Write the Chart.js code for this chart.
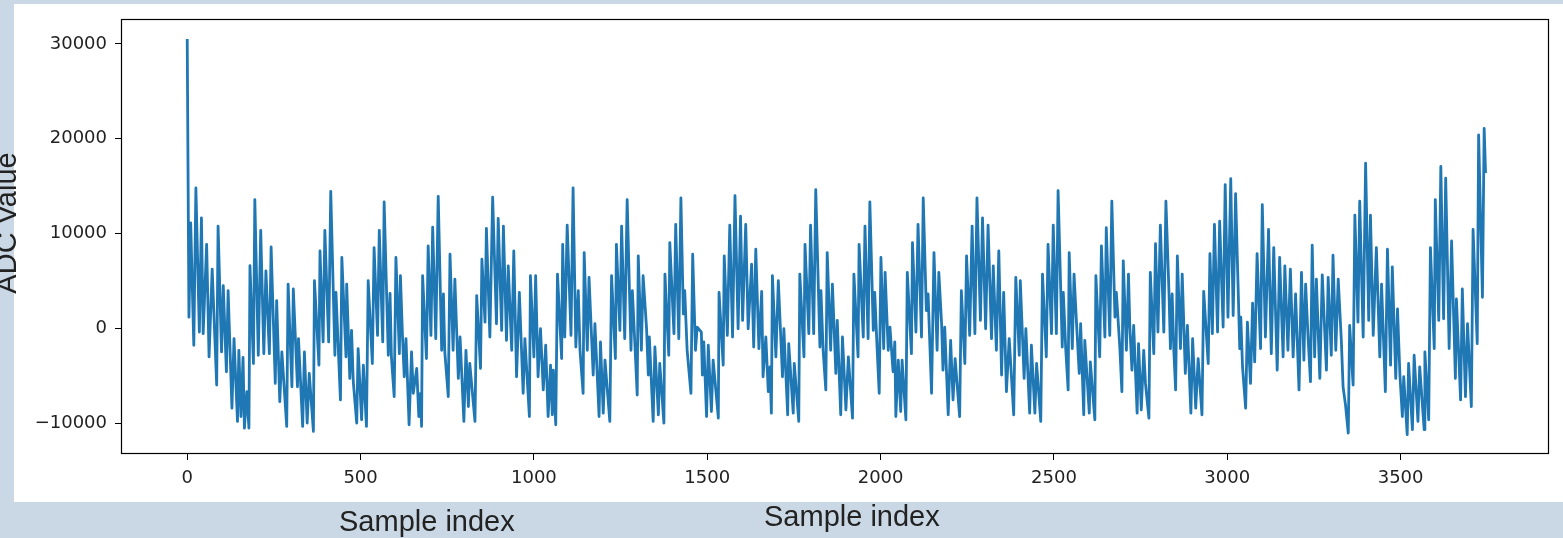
<!DOCTYPE html>
<html>
<head>
<meta charset="utf-8">
<script src="https://cdn.jsdelivr.net/npm/chart.js@4.4.1/dist/chart.umd.min.js"></script>
<style>
    html, body { margin: 0; padding: 0; }
    body { width: 1563px; height: 538px; background: #cad8e5; position: relative; overflow: hidden; }
    #panel { position: absolute; left: 14px; top: 4px; width: 1549px; height: 498px; background: #fff; }
    #wrap  { position: absolute; left: 0; top: 0; width: 1563px; height: 538px; }
</style>
</head>
<body>
<div id="panel"></div>
<div id="wrap"><canvas id="adcChart"></canvas></div>
<script>
// ── Data (sample index → ADC value) ──────────────────────────────────

const sampleIndex = [
    0,5,10,19,25,35,41,46,56,63,72,85,89,99,104,113,118,129,135,145,149,155,161,165,172,
    178,181,191,195,205,212,221,227,237,242,254,258,267,273,287,291,302,306,318,321,333,338,346,352,364,
    367,380,383,392,397,408,414,426,429,442,446,458,460,469,474,479,489,493,503,508,517,522,
    534,539,549,554,564,568,580,585,589,597,602,612,615,621,626,631,640,647,652,662,668,673,676,679,690,
    695,703,708,717,724,734,739,743,753,758,767,772,777,782,787,798,804,811,815,830,835,846,850,859,863,
    873,881,892,897,907,912,921,926,936,942,950,958,969,974,987,990,1000,1005,1012,1019,1027,1034,1041,1048,1053,
    1056,1063,1068,
    1080,1083,1089,1096,1107,1113,1121,1128,1133,1142,1145,1154,1159,1171,1176,1188,1192,1200,1205,1219,
    1224,1235,1238,1248,1253,1262,1269,1280,1284,1291,1298,1301,1310,1315,1325,1330,1333,1344,1349,1359,
    1363,1375,1378,1389,1392,1404,1409,1418,1424,1431,1435,1442,1453,1458,1466,1471,1483,1486,1490,1498,
    1503,1512,1517,1532,1534,1546,1549,1558,1565,1573,1580,1589,1596,
    1602,1611,1618,1628,1634,1640,1649,1657,1661,1669,1676,1681,1685,1688,1698,1705,1717,1721,1732,1735,
    1748,1751,1764,1767,1779,1782,1793,1798,1807,1813,1825,1828,1834,1842,1846,1856,1861,1871,1875,1885,
    1890,1900,1907,1919,1923,1935,1938,1950,1955,1964,1969,1979,1983,1990,1996,2001,2009,2013,2022,2027,
    2036,2041,2044,2051,2058,2062,2073,2077,2089,2092,2102,2108,2118,2123,2132,2137,2147,2154,2163,2168,
    2176,2180,2185,2195,2202,2209,2215,2228,2233,2243,2248,2257,2264,2272,2278,2288,2294,2303,2310,2320,
    2325,2334,2341,2349,2355,2363,2371,2384,2390,2400,2403,2414,2419,2430,2435,2445,2450,2462,2467,2478,
    2483,2493,2498,2507,2512,2524,2527,2534,2541,2544,2553,2558,2565,2573,2577,2586,2589,2602,2605,2618,
    2621,2632,2637,2647,2651,2661,2667,2676,2680,2690,2696,2700,2709,2715,
    2719,2725,2730,2740,2744,2752,2759,2764,2774,2778,2788,2793,2800,2807,2817,2823,2832,2836,2841,2846,
    2851,2856,2865,2870,2879,2885,2895,2900,2909,2916,2927,2932,2945,2950,2957,2963,2972,2978,2988,2994,
    3002,3010,3017,3024,3031,3036,3039,3044,3053,3058,3067,3073,3079,3086,3096,3101,3110,3119,3127,3134,
    3144,3151,3161,3166,3175,3182,3190,3197,3207,3214,3221,3226,3233,3240,3245,
    3252,3257,3267,3274,3286,3291,3300,3305,3313,3320,3329,3334,3341,3349,3353,3363,3368,3377,3382,3392,
    3399,3408,3413,3421,3430,3440,3445,3456,3462,3471,3476,3486,3491,3498,3505,3509,3519,3523,3534,3539,
    3550,3555,3568,3570,3581,3586,3597,3600,3610,3616,3624,3630,3640,3647,3658,3661,3673,3678,3687,3693,
    3704,3709,3721,3725,3736,3741,3745
];

const adcValue = [
    30520,1200,11150,-1760,14815,-370,11670,-540,8880,-2980,6270,-5950,10800,-2460,4520,-4550,3990,-8390,-1060,-9790,-2290,-9270,-3050,-10490,-6650,
    -10490,6620,-3680,13590,-2810,10350,-2640,6090,-2640,8600,-5780,2950,-7700,-2460,-10310,4690,-6130,4170,-6130,-1060,-10310,-2460,-9960,-4730,-10840,
    5040,-3860,8180,-1410,10350,-1410,14470,-2810,3820,-7520,7490,-2980,4690,-5250,-190,-5600,-9960,-2110,-9610,-3860,-10310,5040,
    -3680,8530,-720,10350,-1410,13350,-2810,3720,-2980,-7170,7490,-2640,5570,-890,-5080,-1060,-10140,-2460,-6820,-4200,-9270,-6820,-10310,5570,-3160,
    8710,-720,10700,-1060,13940,-2290,3650,-2460,-7170,7840,-2290,5220,-20,-5250,-890,-9790,-2290,-8220,-3680,-9790,3470,-4200,7310,680,10560,
    -890,13840,510,11600,-190,10800,-1240,6610,-2290,8180,-5080,3820,-6820,-1060,-9270,5570,-2980,5570,-5080,-20,-6470,-1760,-9270,-3860,-9090,
    -4380,-10140,5740,
    -3160,8880,-890,10910,-720,14815,-1940,3990,-2290,-6820,8010,-2290,5390,-4900,510,-9270,-1410,-8920,-3330,-9790,
    5570,-3160,8880,-190,10800,-1060,13590,-2290,3990,-1410,-7000,7660,-2290,5570,-20,-4900,-890,-9790,-1940,-9090,
    -3680,-9960,5740,-2810,9060,-540,10980,-1060,13770,1550,3990,-2290,-6820,7840,-2290,160,-370,-4900,-1410,-9270,
    -1760,-8740,-3330,-9440,3820,-3860,7660,-720,10910,-890,14010,-20,11850,
    860,10980,-20,6790,-1940,8360,-2110,3930,-5080,-890,-6650,-4030,-8920,5570,-2980,5040,-5080,-20,-9090,-1590,
    -8920,-3680,-9790,5740,-2980,8880,-540,10910,-540,14640,-1940,3990,-2110,-6470,8010,-2290,4690,-4730,860,-9090,
    -890,-8570,-2980,-9440,5740,-2980,8880,-890,10800,-1060,13350,-190,3820,-2110,-6820,7490,-2110,5920,-2290,160,
    -4550,-1410,-9270,-3330,-8740,-3330,-9610,5920,-2640,9060,-370,10980,-890,13770,1900,3650,-6820,8010,-2290,5920,
    510,-4380,160,-9090,-1240,-7520,-3160,-9270,3990,-3680,7660,-720,10800,-540,13770,860,11670,-20,10910,-1060,
    6610,-2290,8180,-4900,3820,-6650,-1060,-9090,5390,-2810,5040,-5250,-20,-8920,-1760,-8920,-3680,-9790,5740,-2980,
    8880,-540,10910,-540,14540,-1940,3820,-2110,-6470,8010,-2110,5740,680,-4730,510,-9090,-1240,-8920,-3510,-9610,
    5570,-2980,8710,-890,10630,-720,13420,1200,3820,-1940,-6650,7140,-2290,5740,
    160,-4380,330,-8920,-1590,-8570,-2290,-5780,-9440,5920,-2640,8950,-370,10910,-370,13420,3650,-2110,3650,-2460,
    -6470,7660,-2110,5740,-4730,330,-8920,-1060,-8390,-3160,-9090,3930,-3680,7900,-540,10980,-370,11320,160,15160,
    1200,15790,1380,14220,4690,-2110,1200,-4030,-8390,680,-5780,2670,-3510,7900,-2110,13070,-890,10450,-2640,8530,
    -4380,7490,-2980,6610,-2290,6270,-2980,3650,-6470,5920,-3330,4690,-890,-5600,8780,
    -2980,5220,-5250,5670,-4380,5390,-2810,7730,-2290,5220,-1240,-6130,-8040,-11010,330,-5950,11950,680,13420,-890,
    17430,860,11950,-720,8530,-2980,4690,-6650,8360,-3860,6510,-5250,2080,-4900,-9270,-5080,-11180,-3680,-10660,-2810,
    -9790,-4030,-10660,-2460,-9610,8530,-2110,13590,860,17080,1030,15860,-2110,9230,-5250,3120,-7520,4170,-7170,510,
    -8220,10450,-1590,20400,3300,21100,16380
];

const xTicks = [0, 500, 1000, 1500, 2000, 2500, 3000, 3500];
const yTicks = [-10000, 0, 10000, 20000, 30000];
const xTitle = 'Sample index';
const yTitle = 'ADC Value';

if (sampleIndex.length !== adcValue.length) {
    throw new Error('length mismatch ' + sampleIndex.length + ' vs ' + adcValue.length);
}

// ── Helpers ─────────────────────────────────────────────────────────

const fmtTick = v => (v < 0 ? '\u2212' + Math.abs(v) : String(v));

// matplotlib-style box around the axes
const axesFrame = {
    id: 'axesFrame',
    afterDatasetsDraw(chart) {
        const { ctx, chartArea: a } = chart;
        ctx.save();
        ctx.strokeStyle = '#000';
        ctx.lineWidth = 1.2;
        ctx.strokeRect(Math.round(a.left) + 0.5, Math.round(a.top) + 0.5,
                       Math.round(a.right - a.left) - 1, Math.round(a.bottom - a.top) - 1);
        ctx.restore();
    }
};

// axis titles sit outside the white panel, like in the screenshot
const axisTitles = {
    id: 'axisTitles',
    afterDraw(chart) {
        const ctx = chart.ctx;
        ctx.save();
        ctx.fillStyle = '#222';
        ctx.font = '29px "Liberation Sans", Arial, sans-serif';
        ctx.textBaseline = 'alphabetic';
        ctx.textAlign = 'left';
        ctx.fillText(xTitle, 339, 531);
        ctx.fillText(xTitle, 764, 526);
        ctx.translate(16, 223);
        ctx.rotate(-Math.PI / 2);
        ctx.textAlign = 'center';
        ctx.fillText(yTitle, 0, 0);
        ctx.restore();
    }
};

// ── Chart ───────────────────────────────────────────────────────────

const tickFont = { family: '"DejaVu Sans", sans-serif', size: 18 };

new Chart(document.getElementById('adcChart'), {
    type: 'line',
    data: {
        datasets: [{
            label: yTitle,
            data: sampleIndex.map((x, i) => ({ x, y: adcValue[i] })),
            borderColor: '#1f77b4',
            borderWidth: 2.8,
            borderJoinStyle: 'round',
            pointRadius: 0,
            tension: 0,
            fill: false,
        }]
    },
    options: {
        responsive: true,
        maintainAspectRatio: false,
        animation: false,
        layout: { padding: { left: 0, right: 14, top: 16, bottom: 44 } },
        plugins: {
            legend: { display: false },
            tooltip: { enabled: false }
        },
        scales: {
            x: {
                type: 'linear',
                min: -191,
                max: 3928,
                afterBuildTicks: s => { s.ticks = xTicks.map(v => ({ value: v })); },
                afterFit: s => { s.height = 40; },
                border: { display: false },
                grid: { drawOnChartArea: false, drawTicks: true, tickLength: 6, tickColor: '#000' },
                ticks: { color: '#222', font: tickFont, padding: 8, maxRotation: 0, autoSkip: false, callback: fmtTick }
            },
            y: {
                type: 'linear',
                min: -13220,
                max: 32650,
                afterBuildTicks: s => { s.ticks = yTicks.map(v => ({ value: v })); },
                afterFit: s => { s.width = 121; },
                border: { display: false },
                grid: { drawOnChartArea: false, drawTicks: true, tickLength: 6, tickColor: '#000' },
                ticks: { color: '#222', font: tickFont, padding: 8, autoSkip: false, callback: fmtTick }
            }
        }
    },
    plugins: [axesFrame, axisTitles]
});
</script>
</body>
</html>
